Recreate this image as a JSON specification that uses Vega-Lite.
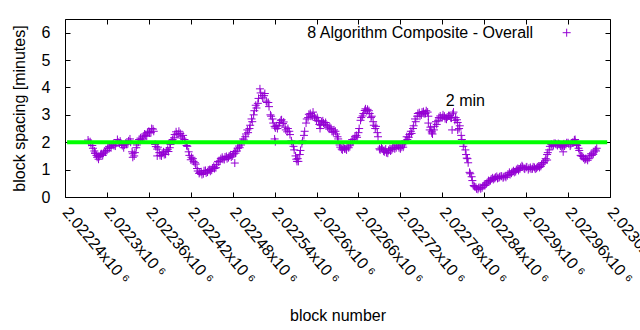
{
  "$schema": "https://vega.github.io/schema/vega-lite/v6.json",
  "width": 545,
  "height": 178,
  "autosize": {"type": "none"},
  "padding": {"left": 65, "top": 19, "right": 30, "bottom": 133},
  "config": {
    "view": {"stroke": "#000", "strokeWidth": 1},
    "font": "Liberation Sans",
    "axis": {
      "grid": false,
      "domain": false,
      "tickColor": "#000",
      "tickSize": -5,
      "labelColor": "#000",
      "labelFont": "Liberation Sans",
      "labelFontSize": 16,
      "titleColor": "#000",
      "titleFont": "Liberation Sans",
      "titleFontSize": 16,
      "titleFontWeight": "normal"
    }
  },
  "resolve": {"axis": {"x": "independent", "y": "independent"}},
  "layer": [
    {
      "data": {
        "values": [
          {"block": 2022273, "spacing": 2.08}, {"block": 2022276, "spacing": 2.02}, {"block": 2022279, "spacing": 1.88}, {"block": 2022282, "spacing": 1.68},
          {"block": 2022285, "spacing": 1.52}, {"block": 2022288, "spacing": 1.38}, {"block": 2022291, "spacing": 1.55}, {"block": 2022294, "spacing": 1.52},
          {"block": 2022297, "spacing": 1.68}, {"block": 2022300, "spacing": 1.7}, {"block": 2022303, "spacing": 1.85}, {"block": 2022306, "spacing": 1.8},
          {"block": 2022309, "spacing": 1.93}, {"block": 2022312, "spacing": 1.86}, {"block": 2022315, "spacing": 2.1}, {"block": 2022318, "spacing": 1.96},
          {"block": 2022321, "spacing": 1.93}, {"block": 2022324, "spacing": 1.8}, {"block": 2022327, "spacing": 1.97}, {"block": 2022330, "spacing": 1.95},
          {"block": 2022333, "spacing": 2.12}, {"block": 2022336, "spacing": 1.65}, {"block": 2022339, "spacing": 1.5}, {"block": 2022342, "spacing": 1.8},
          {"block": 2022345, "spacing": 2.0}, {"block": 2022348, "spacing": 2.15}, {"block": 2022351, "spacing": 2.12}, {"block": 2022354, "spacing": 2.3},
          {"block": 2022357, "spacing": 2.22}, {"block": 2022360, "spacing": 2.4}, {"block": 2022363, "spacing": 2.35}, {"block": 2022366, "spacing": 2.48},
          {"block": 2022369, "spacing": 1.92}, {"block": 2022372, "spacing": 1.75}, {"block": 2022375, "spacing": 1.62}, {"block": 2022378, "spacing": 1.5},
          {"block": 2022381, "spacing": 1.65}, {"block": 2022384, "spacing": 1.56}, {"block": 2022387, "spacing": 1.74}, {"block": 2022390, "spacing": 1.8},
          {"block": 2022393, "spacing": 2.05}, {"block": 2022396, "spacing": 2.16}, {"block": 2022399, "spacing": 2.38}, {"block": 2022402, "spacing": 2.3},
          {"block": 2022405, "spacing": 2.32}, {"block": 2022408, "spacing": 2.15}, {"block": 2022411, "spacing": 2.1}, {"block": 2022414, "spacing": 1.88},
          {"block": 2022417, "spacing": 1.65}, {"block": 2022420, "spacing": 1.36}, {"block": 2022423, "spacing": 1.4}, {"block": 2022426, "spacing": 1.25},
          {"block": 2022429, "spacing": 1.04}, {"block": 2022432, "spacing": 0.86}, {"block": 2022435, "spacing": 0.92}, {"block": 2022438, "spacing": 0.85},
          {"block": 2022441, "spacing": 0.97}, {"block": 2022444, "spacing": 0.91}, {"block": 2022447, "spacing": 1.0}, {"block": 2022450, "spacing": 0.98},
          {"block": 2022453, "spacing": 1.12}, {"block": 2022456, "spacing": 1.07}, {"block": 2022459, "spacing": 1.3}, {"block": 2022462, "spacing": 1.32},
          {"block": 2022465, "spacing": 1.45}, {"block": 2022468, "spacing": 1.37}, {"block": 2022471, "spacing": 1.48}, {"block": 2022474, "spacing": 1.44},
          {"block": 2022477, "spacing": 1.54}, {"block": 2022480, "spacing": 1.5}, {"block": 2022483, "spacing": 1.66}, {"block": 2022486, "spacing": 1.68},
          {"block": 2022489, "spacing": 1.86}, {"block": 2022492, "spacing": 1.9}, {"block": 2022495, "spacing": 2.12}, {"block": 2022498, "spacing": 2.2},
          {"block": 2022501, "spacing": 2.45}, {"block": 2022504, "spacing": 2.5}, {"block": 2022507, "spacing": 2.85}, {"block": 2022510, "spacing": 3.0},
          {"block": 2022513, "spacing": 3.35}, {"block": 2022516, "spacing": 3.42}, {"block": 2022519, "spacing": 3.95}, {"block": 2022522, "spacing": 3.7},
          {"block": 2022525, "spacing": 3.7}, {"block": 2022528, "spacing": 3.5}, {"block": 2022531, "spacing": 3.45}, {"block": 2022534, "spacing": 3.0},
          {"block": 2022537, "spacing": 2.85}, {"block": 2022540, "spacing": 2.58}, {"block": 2022543, "spacing": 2.6}, {"block": 2022546, "spacing": 2.6},
          {"block": 2022549, "spacing": 2.8}, {"block": 2022552, "spacing": 2.68}, {"block": 2022555, "spacing": 2.55}, {"block": 2022558, "spacing": 2.38},
          {"block": 2022561, "spacing": 2.4}, {"block": 2022564, "spacing": 2.05}, {"block": 2022567, "spacing": 1.85}, {"block": 2022570, "spacing": 1.5},
          {"block": 2022573, "spacing": 1.4}, {"block": 2022576, "spacing": 1.55}, {"block": 2022579, "spacing": 1.95}, {"block": 2022582, "spacing": 2.25},
          {"block": 2022585, "spacing": 2.7}, {"block": 2022588, "spacing": 2.9}, {"block": 2022591, "spacing": 3.05}, {"block": 2022594, "spacing": 2.96},
          {"block": 2022597, "spacing": 2.95}, {"block": 2022600, "spacing": 2.8}, {"block": 2022603, "spacing": 2.78}, {"block": 2022606, "spacing": 2.62},
          {"block": 2022609, "spacing": 2.78}, {"block": 2022612, "spacing": 2.64}, {"block": 2022615, "spacing": 2.62}, {"block": 2022618, "spacing": 2.48},
          {"block": 2022621, "spacing": 2.5}, {"block": 2022624, "spacing": 2.36}, {"block": 2022627, "spacing": 2.4}, {"block": 2022630, "spacing": 2.2},
          {"block": 2022633, "spacing": 1.9}, {"block": 2022636, "spacing": 1.75}, {"block": 2022639, "spacing": 1.82}, {"block": 2022642, "spacing": 1.76},
          {"block": 2022645, "spacing": 1.86}, {"block": 2022648, "spacing": 1.9}, {"block": 2022651, "spacing": 2.1}, {"block": 2022654, "spacing": 2.12},
          {"block": 2022657, "spacing": 2.25}, {"block": 2022660, "spacing": 2.35}, {"block": 2022663, "spacing": 2.8}, {"block": 2022666, "spacing": 2.96},
          {"block": 2022669, "spacing": 3.16}, {"block": 2022672, "spacing": 3.14}, {"block": 2022675, "spacing": 3.15}, {"block": 2022678, "spacing": 2.9},
          {"block": 2022681, "spacing": 2.75}, {"block": 2022684, "spacing": 2.5}, {"block": 2022687, "spacing": 2.35}, {"block": 2022690, "spacing": 1.76},
          {"block": 2022693, "spacing": 1.82}, {"block": 2022696, "spacing": 1.68}, {"block": 2022699, "spacing": 1.75}, {"block": 2022702, "spacing": 1.6},
          {"block": 2022705, "spacing": 1.76}, {"block": 2022708, "spacing": 1.74}, {"block": 2022711, "spacing": 1.86}, {"block": 2022714, "spacing": 1.8},
          {"block": 2022717, "spacing": 1.86}, {"block": 2022720, "spacing": 1.76}, {"block": 2022723, "spacing": 1.9}, {"block": 2022726, "spacing": 1.95},
          {"block": 2022729, "spacing": 2.2}, {"block": 2022732, "spacing": 2.18}, {"block": 2022735, "spacing": 2.4}, {"block": 2022738, "spacing": 2.5},
          {"block": 2022741, "spacing": 2.85}, {"block": 2022744, "spacing": 2.95}, {"block": 2022747, "spacing": 3.08}, {"block": 2022750, "spacing": 3.0},
          {"block": 2022753, "spacing": 3.12}, {"block": 2022756, "spacing": 3.05}, {"block": 2022759, "spacing": 3.1}, {"block": 2022762, "spacing": 2.45},
          {"block": 2022765, "spacing": 2.4}, {"block": 2022768, "spacing": 2.45}, {"block": 2022771, "spacing": 2.75}, {"block": 2022774, "spacing": 2.8},
          {"block": 2022777, "spacing": 2.96}, {"block": 2022780, "spacing": 2.9}, {"block": 2022783, "spacing": 2.95}, {"block": 2022786, "spacing": 2.84},
          {"block": 2022789, "spacing": 2.97}, {"block": 2022792, "spacing": 2.9}, {"block": 2022795, "spacing": 3.04}, {"block": 2022798, "spacing": 2.8},
          {"block": 2022801, "spacing": 2.82}, {"block": 2022804, "spacing": 2.5}, {"block": 2022807, "spacing": 2.25}, {"block": 2022810, "spacing": 1.85},
          {"block": 2022813, "spacing": 1.72}, {"block": 2022816, "spacing": 1.4}, {"block": 2022819, "spacing": 0.9}, {"block": 2022822, "spacing": 0.74},
          {"block": 2022825, "spacing": 0.42}, {"block": 2022828, "spacing": 0.36}, {"block": 2022831, "spacing": 0.28}, {"block": 2022834, "spacing": 0.35},
          {"block": 2022837, "spacing": 0.34}, {"block": 2022840, "spacing": 0.45}, {"block": 2022843, "spacing": 0.48}, {"block": 2022846, "spacing": 0.6},
          {"block": 2022849, "spacing": 0.6}, {"block": 2022852, "spacing": 0.7}, {"block": 2022855, "spacing": 0.68}, {"block": 2022858, "spacing": 0.75},
          {"block": 2022861, "spacing": 0.7}, {"block": 2022864, "spacing": 0.76}, {"block": 2022867, "spacing": 0.7}, {"block": 2022870, "spacing": 0.77},
          {"block": 2022873, "spacing": 0.78}, {"block": 2022876, "spacing": 0.9}, {"block": 2022879, "spacing": 0.87}, {"block": 2022882, "spacing": 0.96},
          {"block": 2022885, "spacing": 0.93}, {"block": 2022888, "spacing": 1.04}, {"block": 2022891, "spacing": 1.02}, {"block": 2022894, "spacing": 1.14},
          {"block": 2022897, "spacing": 1.05}, {"block": 2022900, "spacing": 1.08}, {"block": 2022903, "spacing": 1.0}, {"block": 2022906, "spacing": 1.08},
          {"block": 2022909, "spacing": 1.03}, {"block": 2022912, "spacing": 1.08}, {"block": 2022915, "spacing": 1.05}, {"block": 2022918, "spacing": 1.13},
          {"block": 2022921, "spacing": 1.12}, {"block": 2022924, "spacing": 1.24}, {"block": 2022927, "spacing": 1.32}, {"block": 2022930, "spacing": 1.55},
          {"block": 2022933, "spacing": 1.72}, {"block": 2022936, "spacing": 1.92}, {"block": 2022939, "spacing": 1.88}, {"block": 2022942, "spacing": 1.95},
          {"block": 2022945, "spacing": 1.88}, {"block": 2022948, "spacing": 1.92}, {"block": 2022951, "spacing": 1.82}, {"block": 2022954, "spacing": 1.94},
          {"block": 2022957, "spacing": 1.92}, {"block": 2022960, "spacing": 1.98}, {"block": 2022963, "spacing": 1.86}, {"block": 2022966, "spacing": 1.98},
          {"block": 2022969, "spacing": 2.08}, {"block": 2022972, "spacing": 1.92}, {"block": 2022975, "spacing": 1.78}, {"block": 2022978, "spacing": 1.52},
          {"block": 2022981, "spacing": 1.48}, {"block": 2022984, "spacing": 1.36}, {"block": 2022987, "spacing": 1.4}, {"block": 2022990, "spacing": 1.42},
          {"block": 2022993, "spacing": 1.58}, {"block": 2022996, "spacing": 1.56}, {"block": 2022999, "spacing": 1.72}, {"block": 2023001, "spacing": 1.78},
          {"block": 2022540, "spacing": 2.12}, {"block": 2022541, "spacing": 2.02}, {"block": 2022483, "spacing": 1.24}, {"block": 2022760, "spacing": 2.7},
          {"block": 2022765, "spacing": 2.34}, {"block": 2022794, "spacing": 2.45}, {"block": 2022802, "spacing": 2.45}, {"block": 2022930, "spacing": 1.35},
          {"block": 2022953, "spacing": 1.65}, {"block": 2022970, "spacing": 2.1}, {"block": 2022337, "spacing": 1.45}, {"block": 2022283, "spacing": 1.6},
          {"block": 2022372, "spacing": 1.5}, {"block": 2022572, "spacing": 1.3}, {"block": 2022605, "spacing": 2.5}, {"block": 2022815, "spacing": 1.42},
          {"block": 2022274, "spacing": 2.0}, {"block": 2022277, "spacing": 1.95}, {"block": 2022280, "spacing": 1.78}, {"block": 2022283, "spacing": 1.6},
          {"block": 2022286, "spacing": 1.45}, {"block": 2022289, "spacing": 1.48}, {"block": 2022292, "spacing": 1.58}, {"block": 2022295, "spacing": 1.6},
          {"block": 2022298, "spacing": 1.64}, {"block": 2022301, "spacing": 1.78}, {"block": 2022304, "spacing": 1.79}, {"block": 2022307, "spacing": 1.9},
          {"block": 2022310, "spacing": 1.88}, {"block": 2022313, "spacing": 1.96}, {"block": 2022316, "spacing": 2.0}, {"block": 2022319, "spacing": 2.04},
          {"block": 2022322, "spacing": 1.88}, {"block": 2022325, "spacing": 1.9}, {"block": 2022328, "spacing": 1.93}, {"block": 2022331, "spacing": 2.05},
          {"block": 2022334, "spacing": 2.0}, {"block": 2022337, "spacing": 1.58}, {"block": 2022340, "spacing": 1.62}, {"block": 2022343, "spacing": 1.9},
          {"block": 2022346, "spacing": 2.1}, {"block": 2022349, "spacing": 2.08}, {"block": 2022352, "spacing": 2.22}, {"block": 2022355, "spacing": 2.25},
          {"block": 2022358, "spacing": 2.36}, {"block": 2022361, "spacing": 2.34}, {"block": 2022364, "spacing": 2.5}, {"block": 2022367, "spacing": 2.4},
          {"block": 2022370, "spacing": 1.84}, {"block": 2022373, "spacing": 1.82}, {"block": 2022376, "spacing": 1.52}, {"block": 2022379, "spacing": 1.6},
          {"block": 2022382, "spacing": 1.55}, {"block": 2022385, "spacing": 1.68}, {"block": 2022388, "spacing": 1.66}, {"block": 2022391, "spacing": 1.92},
          {"block": 2022394, "spacing": 2.1}, {"block": 2022397, "spacing": 2.28}, {"block": 2022400, "spacing": 2.3}, {"block": 2022403, "spacing": 2.4},
          {"block": 2022406, "spacing": 2.22}, {"block": 2022409, "spacing": 2.25}, {"block": 2022412, "spacing": 1.98}, {"block": 2022415, "spacing": 1.85},
          {"block": 2022418, "spacing": 1.52}, {"block": 2022421, "spacing": 1.45}, {"block": 2022424, "spacing": 1.3}, {"block": 2022427, "spacing": 1.2},
          {"block": 2022430, "spacing": 0.95}, {"block": 2022433, "spacing": 0.9}, {"block": 2022436, "spacing": 0.82}, {"block": 2022439, "spacing": 0.96},
          {"block": 2022442, "spacing": 0.88}, {"block": 2022445, "spacing": 0.98}, {"block": 2022448, "spacing": 0.94}, {"block": 2022451, "spacing": 1.06},
          {"block": 2022454, "spacing": 1.04}, {"block": 2022457, "spacing": 1.18}, {"block": 2022460, "spacing": 1.28}, {"block": 2022463, "spacing": 1.4},
          {"block": 2022466, "spacing": 1.38}, {"block": 2022469, "spacing": 1.46}, {"block": 2022472, "spacing": 1.4}, {"block": 2022475, "spacing": 1.5},
          {"block": 2022478, "spacing": 1.46}, {"block": 2022481, "spacing": 1.58}, {"block": 2022484, "spacing": 1.6}, {"block": 2022487, "spacing": 1.78},
          {"block": 2022490, "spacing": 1.8}, {"block": 2022493, "spacing": 2.0}, {"block": 2022496, "spacing": 2.08}, {"block": 2022499, "spacing": 2.3},
          {"block": 2022502, "spacing": 2.35}, {"block": 2022505, "spacing": 2.62}, {"block": 2022508, "spacing": 2.75}, {"block": 2022511, "spacing": 3.15},
          {"block": 2022514, "spacing": 3.25}, {"block": 2022517, "spacing": 3.6}, {"block": 2022520, "spacing": 3.8}, {"block": 2022523, "spacing": 3.62},
          {"block": 2022526, "spacing": 3.78}, {"block": 2022529, "spacing": 3.45}, {"block": 2022532, "spacing": 3.3}, {"block": 2022535, "spacing": 2.95},
          {"block": 2022538, "spacing": 2.7}, {"block": 2022541, "spacing": 2.52}, {"block": 2022544, "spacing": 2.5}, {"block": 2022547, "spacing": 2.72},
          {"block": 2022550, "spacing": 2.82}, {"block": 2022553, "spacing": 2.74}, {"block": 2022556, "spacing": 2.45}, {"block": 2022559, "spacing": 2.5},
          {"block": 2022562, "spacing": 2.28}, {"block": 2022565, "spacing": 1.95}, {"block": 2022568, "spacing": 1.72}, {"block": 2022571, "spacing": 1.38},
          {"block": 2022574, "spacing": 1.3}, {"block": 2022577, "spacing": 1.7}, {"block": 2022580, "spacing": 2.05}, {"block": 2022583, "spacing": 2.4},
          {"block": 2022586, "spacing": 2.85}, {"block": 2022589, "spacing": 3.02}, {"block": 2022592, "spacing": 2.95}, {"block": 2022595, "spacing": 3.1},
          {"block": 2022598, "spacing": 2.88}, {"block": 2022601, "spacing": 2.9}, {"block": 2022604, "spacing": 2.65}, {"block": 2022607, "spacing": 2.75},
          {"block": 2022610, "spacing": 2.7}, {"block": 2022613, "spacing": 2.72}, {"block": 2022616, "spacing": 2.55}, {"block": 2022619, "spacing": 2.56},
          {"block": 2022622, "spacing": 2.4}, {"block": 2022625, "spacing": 2.45}, {"block": 2022628, "spacing": 2.3}, {"block": 2022631, "spacing": 2.12},
          {"block": 2022634, "spacing": 1.82}, {"block": 2022637, "spacing": 1.72}, {"block": 2022640, "spacing": 1.76}, {"block": 2022643, "spacing": 1.72},
          {"block": 2022646, "spacing": 1.8}, {"block": 2022649, "spacing": 1.98}, {"block": 2022652, "spacing": 2.0}, {"block": 2022655, "spacing": 2.2},
          {"block": 2022658, "spacing": 2.18}, {"block": 2022661, "spacing": 2.5}, {"block": 2022664, "spacing": 2.9}, {"block": 2022667, "spacing": 3.05},
          {"block": 2022670, "spacing": 3.22}, {"block": 2022673, "spacing": 3.2}, {"block": 2022676, "spacing": 3.05}, {"block": 2022679, "spacing": 2.95},
          {"block": 2022682, "spacing": 2.62}, {"block": 2022685, "spacing": 2.58}, {"block": 2022688, "spacing": 2.2}, {"block": 2022691, "spacing": 1.72},
          {"block": 2022694, "spacing": 1.75}, {"block": 2022697, "spacing": 1.65}, {"block": 2022700, "spacing": 1.62}, {"block": 2022703, "spacing": 1.7},
          {"block": 2022706, "spacing": 1.68}, {"block": 2022709, "spacing": 1.8}, {"block": 2022712, "spacing": 1.76}, {"block": 2022715, "spacing": 1.9},
          {"block": 2022718, "spacing": 1.8}, {"block": 2022721, "spacing": 1.82}, {"block": 2022724, "spacing": 1.82}, {"block": 2022727, "spacing": 2.05},
          {"block": 2022730, "spacing": 2.1}, {"block": 2022733, "spacing": 2.28}, {"block": 2022736, "spacing": 2.32}, {"block": 2022739, "spacing": 2.6},
          {"block": 2022742, "spacing": 2.75}, {"block": 2022745, "spacing": 3.05}, {"block": 2022748, "spacing": 2.95}, {"block": 2022751, "spacing": 3.1},
          {"block": 2022754, "spacing": 3.04}, {"block": 2022757, "spacing": 3.15}, {"block": 2022760, "spacing": 2.95}, {"block": 2022763, "spacing": 2.55},
          {"block": 2022766, "spacing": 2.3}, {"block": 2022769, "spacing": 2.58}, {"block": 2022772, "spacing": 2.65}, {"block": 2022775, "spacing": 2.9},
          {"block": 2022778, "spacing": 2.88}, {"block": 2022781, "spacing": 3.0}, {"block": 2022784, "spacing": 2.86}, {"block": 2022787, "spacing": 2.92},
          {"block": 2022790, "spacing": 2.96}, {"block": 2022793, "spacing": 2.88}, {"block": 2022796, "spacing": 3.1}, {"block": 2022799, "spacing": 2.9},
          {"block": 2022802, "spacing": 2.72}, {"block": 2022805, "spacing": 2.6}, {"block": 2022808, "spacing": 2.1}, {"block": 2022811, "spacing": 1.95},
          {"block": 2022814, "spacing": 1.55}, {"block": 2022817, "spacing": 1.25}, {"block": 2022820, "spacing": 0.85}, {"block": 2022823, "spacing": 0.6},
          {"block": 2022826, "spacing": 0.38}, {"block": 2022829, "spacing": 0.3}, {"block": 2022832, "spacing": 0.34}, {"block": 2022835, "spacing": 0.3},
          {"block": 2022838, "spacing": 0.4}, {"block": 2022841, "spacing": 0.42}, {"block": 2022844, "spacing": 0.52}, {"block": 2022847, "spacing": 0.56},
          {"block": 2022850, "spacing": 0.66}, {"block": 2022853, "spacing": 0.64}, {"block": 2022856, "spacing": 0.72}, {"block": 2022859, "spacing": 0.68},
          {"block": 2022862, "spacing": 0.74}, {"block": 2022865, "spacing": 0.76}, {"block": 2022868, "spacing": 0.74}, {"block": 2022871, "spacing": 0.72},
          {"block": 2022874, "spacing": 0.84}, {"block": 2022877, "spacing": 0.82}, {"block": 2022880, "spacing": 0.92}, {"block": 2022883, "spacing": 0.9},
          {"block": 2022886, "spacing": 1.0}, {"block": 2022889, "spacing": 0.97}, {"block": 2022892, "spacing": 1.08}, {"block": 2022895, "spacing": 1.1},
          {"block": 2022898, "spacing": 1.02}, {"block": 2022901, "spacing": 1.1}, {"block": 2022904, "spacing": 1.05}, {"block": 2022907, "spacing": 1.02},
          {"block": 2022910, "spacing": 1.1}, {"block": 2022913, "spacing": 1.02}, {"block": 2022916, "spacing": 1.1}, {"block": 2022919, "spacing": 1.08},
          {"block": 2022922, "spacing": 1.18}, {"block": 2022925, "spacing": 1.26}, {"block": 2022928, "spacing": 1.4}, {"block": 2022931, "spacing": 1.62},
          {"block": 2022934, "spacing": 1.85}, {"block": 2022937, "spacing": 1.86}, {"block": 2022940, "spacing": 1.96}, {"block": 2022943, "spacing": 1.92},
          {"block": 2022946, "spacing": 1.95}, {"block": 2022949, "spacing": 1.86}, {"block": 2022952, "spacing": 1.88}, {"block": 2022955, "spacing": 1.86},
          {"block": 2022958, "spacing": 1.98}, {"block": 2022961, "spacing": 1.94}, {"block": 2022964, "spacing": 1.92}, {"block": 2022967, "spacing": 2.0},
          {"block": 2022970, "spacing": 2.02}, {"block": 2022973, "spacing": 1.88}, {"block": 2022976, "spacing": 1.7}, {"block": 2022979, "spacing": 1.5},
          {"block": 2022982, "spacing": 1.42}, {"block": 2022985, "spacing": 1.4}, {"block": 2022988, "spacing": 1.34}, {"block": 2022991, "spacing": 1.5},
          {"block": 2022994, "spacing": 1.52}, {"block": 2022997, "spacing": 1.64}, {"block": 2023000, "spacing": 1.68}
        ]
      },
      "mark": {"type": "point", "shape": "M-1,0H1M0,-1V1", "size": 64, "strokeWidth": 1, "filled": false, "color": "#9400d3", "opacity": 1},
      "encoding": {
        "x": {
          "field": "block", "type": "quantitative",
          "scale": {"domain": [2022240, 2023020], "nice": false, "zero": false},
          "axis": {
            "orient": "bottom",
            "title": "block number",
            "values": [2022240, 2022300, 2022360, 2022420, 2022480, 2022540, 2022600, 2022660, 2022720, 2022780, 2022840, 2022900, 2022960, 2023020],
            "labelExpr": "format(datum.value / 1000000, '.5~f') + 'x10 ⁶'",
            "labelAngle": 50,
            "labelAlign": "left",
            "labelBaseline": "middle",
            "labelPadding": 17,
            "labelFlush": false,
            "labelOverlap": false,
            "labelBound": false,
            "titleY": 118,
            "titleBaseline": "middle"
          }
        },
        "y": {
          "field": "spacing", "type": "quantitative",
          "scale": {"domain": [0, 6.5], "nice": false, "zero": true},
          "axis": {
            "orient": "left",
            "title": "block spacing [minutes]",
            "values": [0, 1, 2, 3, 4, 5, 6],
            "labelPadding": 20,
            "titlePadding": 14
          }
        }
      }
    },
    {
      "data": {"values": [{"level": 2}]},
      "mark": {"type": "rule", "color": "#00ff00", "strokeWidth": 4},
      "encoding": {
        "y": {
          "field": "level", "type": "quantitative",
          "axis": {"orient": "right", "title": null, "labels": false, "values": [0, 1, 2, 3, 4, 5, 6]}
        },
        "x": {"datum": 2022243, "type": "quantitative",
          "axis": {"orient": "top", "title": null, "labels": false, "values": [2022240, 2022300, 2022360, 2022420, 2022480, 2022540, 2022600, 2022660, 2022720, 2022780, 2022840, 2022900, 2022960, 2023020]}
        },
        "x2": {"datum": 2023016}
      }
    },
    {
      "data": {"values": [{"block": 2022785, "spacing": 3.5, "label": "2 min"}]},
      "mark": {"type": "text", "align": "left", "baseline": "middle", "fontSize": 16, "font": "Liberation Sans", "color": "#000"},
      "encoding": {
        "x": {"field": "block", "type": "quantitative", "axis": null},
        "y": {"field": "spacing", "type": "quantitative", "axis": null},
        "text": {"field": "label"}
      }
    },
    {
      "data": {"values": [{"block": 2022910, "spacing": 6.0, "label": "8 Algorithm Composite - Overall"}]},
      "mark": {"type": "text", "align": "right", "baseline": "middle", "fontSize": 16, "font": "Liberation Sans", "color": "#000"},
      "encoding": {
        "x": {"field": "block", "type": "quantitative", "axis": null},
        "y": {"field": "spacing", "type": "quantitative", "axis": null},
        "text": {"field": "label"}
      }
    },
    {
      "data": {"values": [{"block": 2022958, "spacing": 6.0}]},
      "mark": {"type": "point", "shape": "M-1,0H1M0,-1V1", "size": 64, "strokeWidth": 1, "filled": false, "color": "#9400d3", "opacity": 1},
      "encoding": {
        "x": {"field": "block", "type": "quantitative", "axis": null},
        "y": {"field": "spacing", "type": "quantitative", "axis": null}
      }
    }
  ]
}
